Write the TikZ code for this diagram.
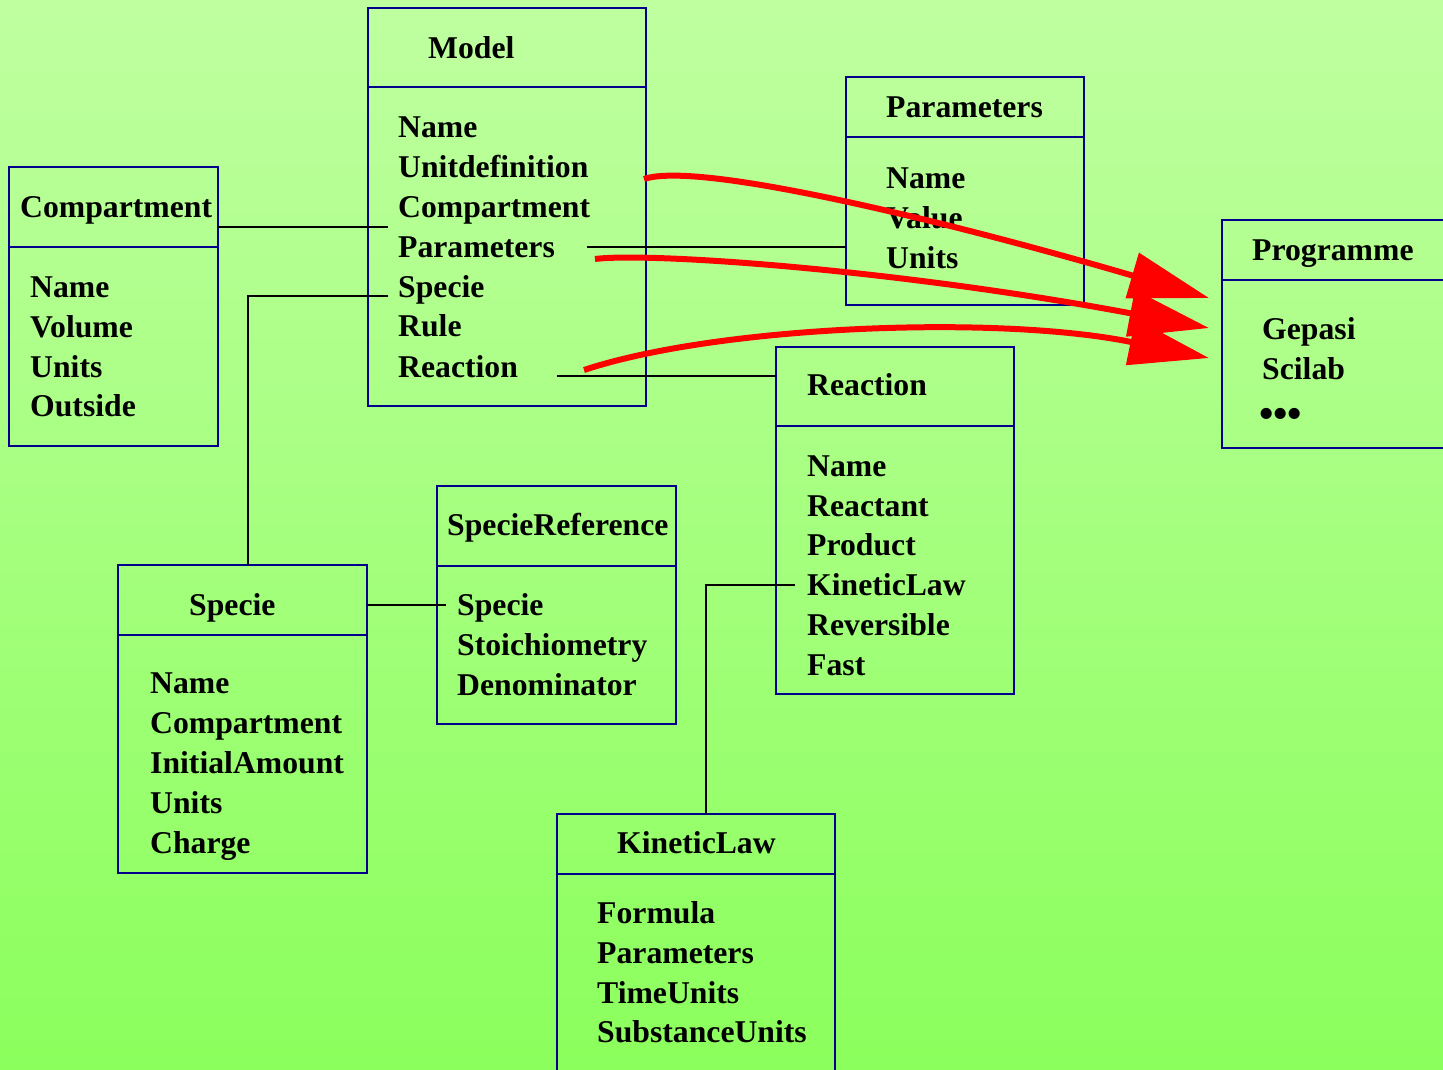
\documentclass[tikz,border=0pt]{standalone}
\usepackage{fontspec}
\setmainfont{Liberation Serif}
\usetikzlibrary{arrows.meta}
\definecolor{bgtop}{RGB}{191,255,160}
\definecolor{bgbot}{RGB}{139,255,92}
\definecolor{navy}{RGB}{0,0,140}
\begin{document}
\begin{tikzpicture}[x=1pt,y=-1pt,
  cls/.style={draw=navy, line width=2pt, anchor=north west, inner sep=0pt, outer sep=0pt},
  divider/.style={draw=navy, line width=2pt},
  txt/.style={anchor=base west, inner sep=0pt, font=\fontsize{31.7}{40}\bfseries\selectfont},
  conn/.style={draw=black, line width=1.8pt},
  redarrow/.style={draw=red, line width=6pt, -{Triangle[length=80pt,width=46pt]}}]
\useasboundingbox (0,0) rectangle (1443,1069);
\clip (0,0) rectangle (1443,1069);
\shade[top color=bgtop, bottom color=bgbot] (0,0) rectangle (1443,1069);

% boxes
\node[cls, minimum width=278pt, minimum height=398pt] (model) at (368,8) {};
\draw[divider] (368,87) -- (646,87);
\node[cls, minimum width=209pt, minimum height=279pt] (compartment) at (9,167) {};
\draw[divider] (9,247) -- (218,247);
\node[cls, minimum width=238pt, minimum height=228pt] (parameters) at (846,77) {};
\draw[divider] (846,137) -- (1084,137);
\node[cls, minimum width=260pt, minimum height=228pt] (programme) at (1222,220) {};
\draw[divider] (1222,280) -- (1482,280);
\node[cls, minimum width=238pt, minimum height=347pt] (reaction) at (776,347) {};
\draw[divider] (776,426) -- (1014,426);
\node[cls, minimum width=239pt, minimum height=238pt] (specieref) at (437,486) {};
\draw[divider] (437,566) -- (676,566);
\node[cls, minimum width=249pt, minimum height=308pt] (specie) at (118,565) {};
\draw[divider] (118,635) -- (367,635);
\node[cls, minimum width=278pt, minimum height=300pt] (kineticlaw) at (557,814) {};
\draw[divider] (557,874) -- (835,874);

% Model
\node[txt] (modelT) at (428,58) {Model};
\node[txt] (mName) at (398,137) {Name};
\node[txt] (mUnit) at (398,177) {Unitdefinition};
\node[txt] (mComp) at (398,217) {Compartment};
\node[txt] (mPar) at (398,257) {Parameters};
\node[txt] (mSpec) at (398,297) {Specie};
\node[txt] (mRule) at (398,336) {Rule};
\node[txt] (mReac) at (398,377) {Reaction};
% Compartment
\node[txt] (compT) at (20,217) {Compartment};
\node[txt] (cName) at (30,297) {Name};
\node[txt] (cVol) at (30,337) {Volume};
\node[txt] (cUnits) at (30,377) {Units};
\node[txt] (cOut) at (30,416) {Outside};
% Parameters
\node[txt] (parT) at (886,117) {Parameters};
\node[txt] (pName) at (886,188) {Name};
\node[txt] (pVal) at (886,228) {Value};
\node[txt] (pUnits) at (886,268) {Units};
% Programme
\node[txt] (progT) at (1252,260) {Programme};
\node[txt] (gep) at (1262,339) {Gepasi};
\node[txt] (sci) at (1262,379) {Scilab};
\node[txt, font=\fontsize{41}{41}\bfseries\selectfont] (dots) at (1259,427) {•••};
% Reaction
\node[txt] (reacT) at (807,395) {Reaction};
\node[txt] (rName) at (807,476) {Name};
\node[txt] (rReact) at (807,516) {Reactant};
\node[txt] (rProd) at (807,555) {Product};
\node[txt] (rKin) at (807,595) {KineticLaw};
\node[txt] (rRev) at (807,635) {Reversible};
\node[txt] (rFast) at (807,675) {Fast};
% SpecieReference
\node[txt] (srT) at (447,535) {SpecieReference};
\node[txt] (srSpec) at (457,615) {Specie};
\node[txt] (srStoi) at (457,655) {Stoichiometry};
\node[txt] (srDen) at (457,695) {Denominator};
% Specie
\node[txt] (spT) at (189,615) {Specie};
\node[txt] (sName) at (150,693) {Name};
\node[txt] (sComp) at (150,733) {Compartment};
\node[txt] (sInit) at (150,773) {InitialAmount};
\node[txt] (sUnits) at (150,813) {Units};
\node[txt] (sCharge) at (150,853) {Charge};
% KineticLaw
\node[txt] (klT) at (617,853) {KineticLaw};
\node[txt] (kForm) at (597,923) {Formula};
\node[txt] (kPar) at (597,963) {Parameters};
\node[txt] (kTime) at (597,1003) {TimeUnits};
\node[txt] (kSub) at (597,1042) {SubstanceUnits};

% connectors
\coordinate (cmpEnd) at (388,227);
\draw[conn] (compartment.east |- cmpEnd) -- (cmpEnd);
\coordinate (parStart) at (587,247);
\draw[conn] (parStart) -- (parStart -| parameters.west);
\coordinate (spcEnd) at (388,296);
\coordinate (spcCorner) at (248,296);
\draw[conn] (spcEnd) -- (spcCorner) -- (spcCorner |- specie.north);
\coordinate (rxStart) at (557,376);
\draw[conn] (rxStart) -- (rxStart -| reaction.west);
\coordinate (srEnd) at (446,605);
\draw[conn] (specie.east |- srEnd) -- (srEnd);
\coordinate (klStart) at (795,585);
\coordinate (klCorner) at (706,585);
\draw[conn] (klStart) -- (klCorner) -- (klCorner |- kineticlaw.north);

% red arrows
\coordinate (a1s) at (644,179);
\coordinate (a1e) at (1209,298);
\coordinate (a2s) at (595,259);
\coordinate (a2e) at (1209,328);
\coordinate (a3s) at (584,370);
\coordinate (a3e) at (1209,358);
\draw[redarrow] (a1s) .. controls (700,160) and (960,225) .. (a1e);
\draw[redarrow] (a2s) .. controls (650,252) and (900,270) .. (a2e);
\draw[redarrow] (a3s) .. controls (720,325) and (1000,315) .. (a3e);
\end{tikzpicture}
\end{document}
